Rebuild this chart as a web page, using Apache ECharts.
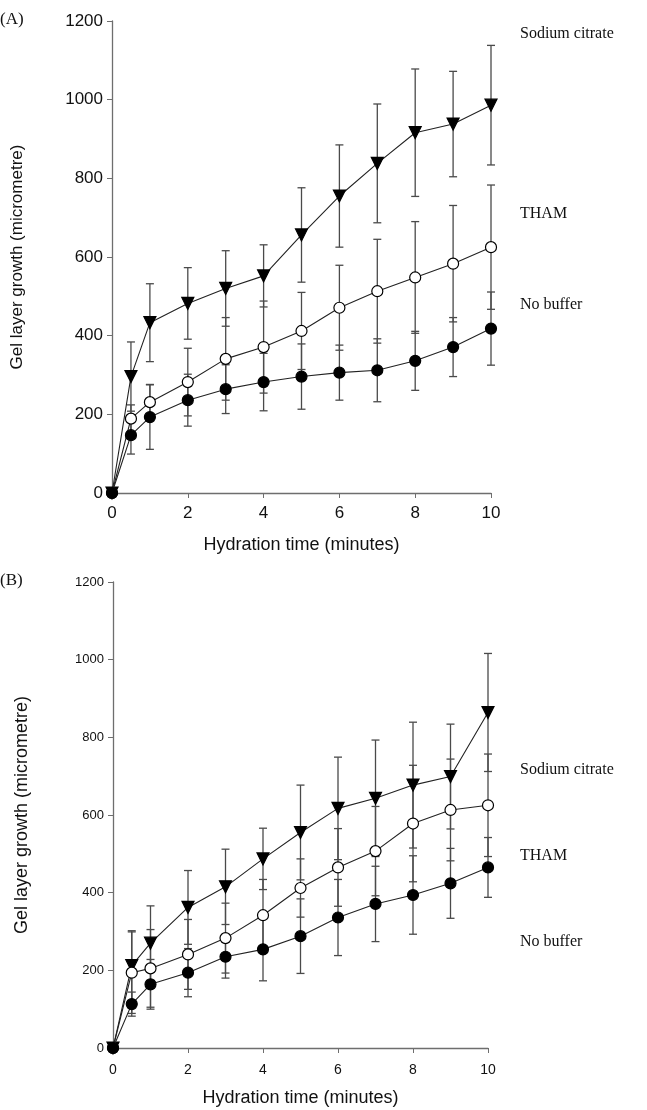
<!DOCTYPE html>
<html>
<head>
<meta charset="utf-8">
<script src="https://cdn.jsdelivr.net/npm/echarts@6/dist/echarts.min.js"></script>
<style>
html,body{margin:0;padding:0;background:#fff;}
#c{width:647px;height:1110px;}
</style>
</head>
<body>
<div id="c"></div>
<script>
// ---- data ----
const time = [0, 0.5, 1, 2, 3, 4, 5, 6, 7, 8, 9, 10];
const xTicks = [0, 2, 4, 6, 8, 10];
const yTicks = [0, 200, 400, 600, 800, 1000, 1200];
const seriesNames = ['Sodium citrate', 'THAM', 'No buffer'];

// Panel A
const aCitrate    = [0, 296, 433, 482, 520, 552, 656, 755, 838, 916, 938, 986];
const aCitrateErr = [0, 88, 99, 91, 96, 79, 120, 130, 151, 162, 134, 152];
const aTham       = [0, 189, 231, 282, 341, 371, 412, 471, 513, 548, 583, 625];
const aThamErr    = [0, 35, 45, 86, 105, 117, 98, 108, 132, 142, 148, 158];
const aNone       = [0, 147, 193, 236, 264, 282, 296, 306, 312, 336, 371, 418];
const aNoneErr    = [0, 48, 82, 66, 62, 73, 83, 70, 80, 75, 75, 93];

// Panel B
const bCitrate    = [0, 212, 270, 362, 415, 487, 555, 617, 643, 677, 699, 864];
const bCitrateErr = [0, 90, 96, 95, 97, 79, 122, 132, 150, 162, 135, 152];
const bTham       = [0, 194, 205, 241, 283, 342, 412, 465, 507, 578, 613, 625];
const bThamErr    = [0, 105, 100, 90, 90, 92, 75, 100, 115, 150, 131, 132];
const bNone       = [0, 113, 164, 194, 235, 254, 288, 336, 371, 394, 424, 465];
const bNoneErr    = [0, 31, 64, 62, 55, 81, 96, 98, 97, 101, 90, 77];

// ---- chart ----
const chart = echarts.init(document.getElementById('c'), null, {renderer: 'canvas'});
const AX = '#6e6e6e';
const SANS = 'Liberation Sans, Arial, sans-serif';
const SERIF = 'Liberation Serif, Times New Roman, serif';

function pts(v) { return time.map((t, i) => [t, v[i]]); }
function errPts(v, e) { return time.map((t, i) => [t, v[i], e[i]]); }

function errRender(params, api) {
  const x = api.value(0), y = api.value(1), e = api.value(2);
  if (!e) return null;
  const top = api.coord([x, y + e]);
  const bot = api.coord([x, y - e]);
  const w = 4;
  const st = {stroke: '#4a4a4a', lineWidth: 1.3};
  return {type: 'group', children: [
    {type: 'line', shape: {x1: top[0], y1: top[1], x2: bot[0], y2: bot[1]}, style: st},
    {type: 'line', shape: {x1: top[0] - w, y1: top[1], x2: top[0] + w, y2: top[1]}, style: st},
    {type: 'line', shape: {x1: bot[0] - w, y1: bot[1], x2: bot[0] + w, y2: bot[1]}, style: st}
  ]};
}

function xAxisDef(gi, fs, nameFs, gap, margin) {
  return {
    type: 'value', gridIndex: gi, min: 0, max: 10, interval: 2,
    name: 'Hydration time (minutes)', nameLocation: 'middle', nameGap: gap,
    nameTextStyle: {fontFamily: SANS, fontSize: nameFs, color: '#111'},
    axisLine: {show: true, onZero: false, lineStyle: {color: AX, width: 1.3}},
    axisTick: {show: true, inside: false, length: 5, lineStyle: {color: AX}},
    axisLabel: {fontFamily: SANS, fontSize: fs, color: '#111', margin: margin,
      formatter: v => xTicks.includes(v) ? String(v) : ''},
    splitLine: {show: false}
  };
}
function yAxisDef(gi, fs, nameFs, gap) {
  return {
    type: 'value', gridIndex: gi, min: 0, max: 1200, interval: 200,
    name: 'Gel layer growth (micrometre)', nameLocation: 'middle', nameGap: gap,
    nameRotate: 90,
    nameTextStyle: {fontFamily: SANS, fontSize: nameFs, color: '#111'},
    axisLine: {show: true, onZero: false, lineStyle: {color: AX, width: 1.3}},
    axisTick: {show: true, inside: false, length: 5, lineStyle: {color: AX}},
    axisLabel: {fontFamily: SANS, fontSize: fs, color: '#111', margin: 9,
      formatter: v => yTicks.includes(v) ? String(v) : ''},
    splitLine: {show: false}
  };
}

const markers = [
  {symbol: 'triangle', rotate: 180, size: 12, color: '#000', border: '#000'},
  {symbol: 'circle', rotate: 0, size: 11, color: '#fff', border: '#000'},
  {symbol: 'circle', rotate: 0, size: 11, color: '#000', border: '#000'}
];

function panelSeries(gi, vals, errs) {
  const out = [];
  vals.forEach((v, k) => {
    out.push({
      type: 'custom', xAxisIndex: gi, yAxisIndex: gi, name: seriesNames[k] + ' err',
      renderItem: errRender, data: errPts(v, errs[k]), encode: {x: 0, y: 1},
      z: 1, silent: true
    });
  });
  vals.forEach((v, k) => {
    const m = markers[k];
    out.push({
      type: 'line', xAxisIndex: gi, yAxisIndex: gi, name: seriesNames[k],
      data: pts(v), symbol: m.symbol, symbolSize: m.size, symbolRotate: m.rotate,
      showAllSymbol: true,
      lineStyle: {color: '#222', width: 1.1},
      itemStyle: {color: m.color, borderColor: m.border, borderWidth: 1.2},
      z: 5 + k, silent: true, animation: false
    });
  });
  return out;
}

const option = {
  animation: false,
  backgroundColor: '#fff',
  grid: [
    {left: 112, top: 21, width: 379, height: 472},
    {left: 113, top: 582, width: 375, height: 466}
  ],
  xAxis: [xAxisDef(0, 17, 18, 43, 12), xAxisDef(1, 14, 18, 41, 15)],
  yAxis: [yAxisDef(0, 17, 17, 86), yAxisDef(1, 13, 18, 82)],
  series: [
    ...panelSeries(0, [aCitrate, aTham, aNone], [aCitrateErr, aThamErr, aNoneErr]),
    ...panelSeries(1, [bCitrate, bTham, bNone], [bCitrateErr, bThamErr, bNoneErr])
  ],
  graphic: [
    {type: 'text', left: 0, top: 11, style: {text: '(A)', font: '17px ' + SERIF, fill: '#111'}},
    {type: 'text', left: 0, top: 572, style: {text: '(B)', font: '17px ' + SERIF, fill: '#111'}},
    {type: 'text', left: 520, top: 26, style: {text: seriesNames[0], font: '16px ' + SERIF, fill: '#111'}},
    {type: 'text', left: 520, top: 206, style: {text: seriesNames[1], font: '16px ' + SERIF, fill: '#111'}},
    {type: 'text', left: 520, top: 297, style: {text: seriesNames[2], font: '16px ' + SERIF, fill: '#111'}},
    {type: 'text', left: 520, top: 762, style: {text: seriesNames[0], font: '16px ' + SERIF, fill: '#111'}},
    {type: 'text', left: 520, top: 848, style: {text: seriesNames[1], font: '16px ' + SERIF, fill: '#111'}},
    {type: 'text', left: 520, top: 934, style: {text: seriesNames[2], font: '16px ' + SERIF, fill: '#111'}}
  ]
};
chart.setOption(option);
</script>
</body>
</html>
